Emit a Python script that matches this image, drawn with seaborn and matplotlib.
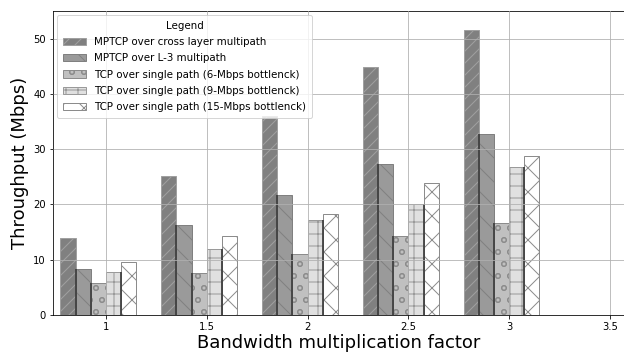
import matplotlib
matplotlib.use("Agg")
import matplotlib.pyplot as plt
import numpy as np
import seaborn as sns

sns.set_style("ticks", rc={"axes.grid": True, "grid.color": "#b0b0b0",
                           "grid.linewidth": 1.0, "text.color": "black",
                           "axes.labelcolor": "black", "xtick.color": "black",
                           "ytick.color": "black"})
plt.rcParams["font.family"] = ["DejaVu Sans"]
plt.rcParams["hatch.linewidth"] = 1.0

factors = [1, 1.5, 2, 2.5, 3]
series = [
    "MPTCP over cross layer multipath",
    "MPTCP over L-3 multipath",
    "TCP over single path (6-Mbps bottlenck)",
    "TCP over single path (9-Mbps bottlenck)",
    "TCP over single path (15-Mbps bottlenck)",
]
cross_layer = [14.0, 25.2, 36.0, 44.8, 51.5]
l3_multipath = [8.4, 16.2, 21.7, 27.4, 32.8]
tcp_6 = [5.7, 7.6, 11.1, 14.3, 16.7]
tcp_9 = [7.7, 11.9, 17.1, 20.0, 26.8]
tcp_15 = [9.5, 14.3, 18.2, 23.9, 28.7]
values = [cross_layer, l3_multipath, tcp_6, tcp_9, tcp_15]

fills = ["#808080", "#9a9a9a", "#c0c0c0", "#e0e0e0", "#ffffff"]
hatch_colors = ["#a0a0a0", "#808080", "#8c8c8c", "#9a9a9a", "#8c8c8c"]
hatches = ["//", "\\", "o", "+", "x"]

DPI = 72
fig = plt.figure(figsize=(624 / DPI, 354 / DPI), dpi=DPI)
ax = fig.add_axes([53 / 624, 1 - 315 / 354, 1 - 53 / 624, (315 - 11) / 354])

w = 0.075
x = np.array(factors)
for i, (label, vals) in enumerate(zip(series, values)):
    ax.bar(x + (i - 3) * w, vals, width=w, align="edge", color=fills[i],
           edgecolor=hatch_colors[i], hatch=hatches[i], linewidth=1.0,
           label=label)

# dark separators between the middle bars
ax.vlines(x - 2 * w, 0, l3_multipath, color="#404040", linewidth=1.8)
ax.vlines(x - w, 0, tcp_6, color="#404040", linewidth=1.8)
ax.vlines(x + w, 0, tcp_9, color="#404040", linewidth=1.8)

ax.set_axisbelow(False)
ax.set_xlim(0.738, 3.569)
ax.set_ylim(0, 55)
ax.set_xticks([1, 1.5, 2, 2.5, 3, 3.5])
ax.set_xticklabels(["1", "1.5", "2", "2.5", "3", "3.5"])
ax.set_yticks([0, 10, 20, 30, 40, 50])
ax.tick_params(labelsize=10, length=3.5)
ax.set_xlabel("Bandwidth multiplication factor", fontsize=18, labelpad=2)
ax.set_ylabel("Throughput (Mbps)", fontsize=18, labelpad=4)
for s in ax.spines.values():
    s.set_color("black")

ax.legend(title="Legend", loc="upper left", fontsize=10.2, title_fontsize=10.2,
          labelspacing=0.6, borderpad=0.6, handlelength=2.2,
          borderaxespad=0.4, framealpha=0.8, edgecolor="#cccccc",
          fancybox=True)

fig.savefig("out.png", dpi=DPI)
